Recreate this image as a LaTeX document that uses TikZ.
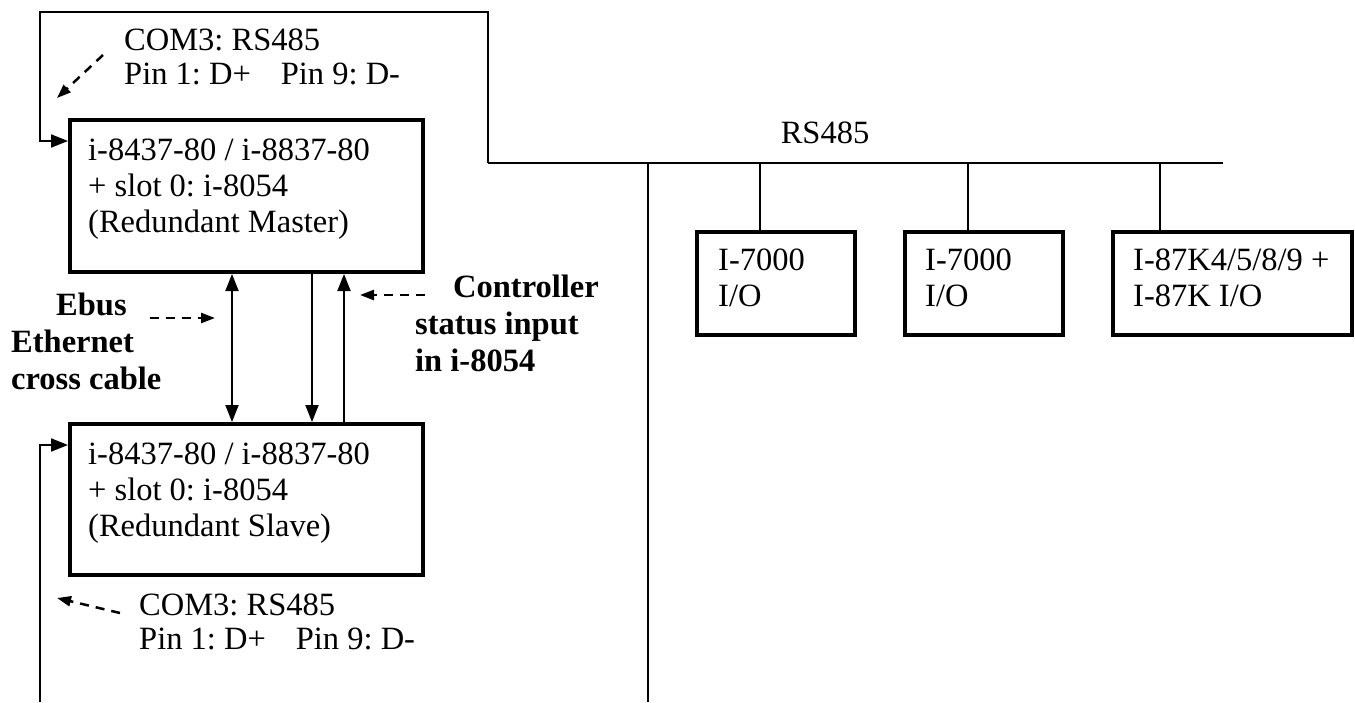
\documentclass[tikz,border=0pt]{standalone}
\usepackage{fontspec}
\setmainfont{Liberation Serif}
\usetikzlibrary{arrows.meta}
\frenchspacing
\begin{document}
\begin{tikzpicture}[x=1pt,y=-1pt,
  wire/.style={line width=2pt},
  box/.style={draw,line width=4pt,rectangle,inner sep=0pt},
  txt/.style={align=left,inner sep=0pt,font=\fontsize{32.5}{36}\selectfont\frenchspacing},
  btxt/.style={align=left,inner sep=0pt,font=\fontsize{32.5}{37}\selectfont\bfseries},
  arr/.style={wire,-{Triangle[length=17pt,width=13pt]}},
  dblarr/.style={wire,{Triangle[length=17pt,width=13pt]}-{Triangle[length=17pt,width=13pt]}},
  dasharr/.style={line width=2.5pt,dash pattern=on 9pt off 7pt,-{Triangle[length=14pt,width=10pt]}}
]
\useasboundingbox (0,0) rectangle (1355,702);

% boxes
\node[box,minimum width=353pt,minimum height=152pt] (master) at (246.5,196) {};
\node[box,minimum width=353pt,minimum height=151pt] (slave) at (246.5,499.5) {};
\node[box,minimum width=158pt,minimum height=103pt] (io1) at (776,283.5) {};
\node[box,minimum width=158pt,minimum height=103pt] (io2) at (984,283.5) {};
\node[box,minimum width=239pt,minimum height=103pt] (io3) at (1232.5,283.5) {};

% texts in boxes
\node[txt,anchor=west] (mtext) at (88,189) {i-8437-80 / i-8837-80\\+ slot 0: i-8054\\(Redundant Master)};
\node[txt,anchor=west] (stext) at (88,493) {i-8437-80 / i-8837-80\\+ slot 0: i-8054\\(Redundant Slave)};
\node[txt,anchor=west] (t1) at (718,278) {I-7000\\I/O};
\node[txt,anchor=west] (t2) at (925,278) {I-7000\\I/O};
\node[txt,anchor=west] (t3) at (1133,278) {I-87K4/5/8/9 +\\I-87K I/O};

% labels
\node[txt,anchor=west,font=\fontsize{32.5}{34}\selectfont\frenchspacing] (comtop) at (124,57) {COM3: RS485\\Pin 1: D+\hspace{30pt}Pin 9: D-};
\node[txt,anchor=west,font=\fontsize{32.5}{34}\selectfont\frenchspacing] (combot) at (139,622) {COM3: RS485\\Pin 1: D+\hspace{30pt}Pin 9: D-};
\node[txt] (rslbl) at (825,133) {RS485};
\node[btxt,anchor=west] (ebus) at (11,341) {\hspace*{45pt}Ebus\\Ethernet\\cross cable};
\node[btxt,anchor=west] (ctrl) at (415,323) {\hspace*{38pt}Controller\\status input\\in i-8054};

% coordinates
\coordinate (busL) at (488,163);
\coordinate (busR) at (1223,163);
\coordinate (topL) at (40,12);
\coordinate (botL) at (40,702);
\coordinate (tap) at (648,163);
\coordinate (tapEnd) at (648,702);
\coordinate (d1) at (760,163);
\coordinate (d2) at (968,163);
\coordinate (d3) at (1160,163);
\coordinate (xa) at (232,0);
\coordinate (xb) at (312,0);
\coordinate (xc) at (344,0);

% RS485 wiring
\draw[arr] (busL) |- (topL) |- ([yshift=-23pt]master.north west);
\draw[arr] (botL) |- ([yshift=-23pt]slave.north west);
\draw[wire] (busL) -- (busR);
\draw[wire] (tap) -- (tapEnd);
\draw[wire] (d1) -- (io1.north -| d1);
\draw[wire] (d2) -- (io2.north -| d2);
\draw[wire] (d3) -- (io3.north -| d3);

% links between controllers
\draw[dblarr] (master.south -| xa) -- (slave.north -| xa);
\draw[arr] (master.south -| xb) -- (slave.north -| xb);
\draw[arr] (slave.north -| xc) -- (master.south -| xc);

% dashed pointers
\coordinate (p1s) at (103,55); \coordinate (p1e) at (57,98);
\coordinate (p2s) at (120,613); \coordinate (p2e) at (57,598);
\coordinate (p3s) at (150,318); \coordinate (p3e) at (215,318);
\coordinate (p4s) at (425,295); \coordinate (p4e) at (360,295);
\draw[dasharr] (p1s) -- (p1e);
\draw[dasharr] (p2s) -- (p2e);
\draw[dasharr] (p3s) -- (p3e);
\draw[dasharr] (p4s) -- (p4e);
\end{tikzpicture}
\end{document}
